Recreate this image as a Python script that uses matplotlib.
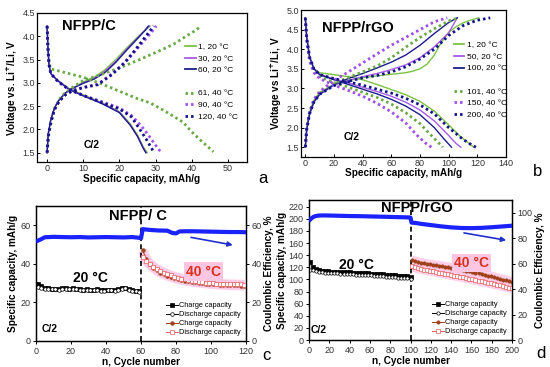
import numpy as np
import matplotlib
matplotlib.use('Agg')
import matplotlib.pyplot as plt
from matplotlib.lines import Line2D

plt.rcParams['font.family'] = ['Liberation Sans', 'DejaVu Sans']

# ---------------- Panel a data (NFPP/C) ----------------
a1_ch_x = [0, 0.3, 1, 2, 3, 5, 7, 10, 13, 16, 19, 22, 25, 27, 28.5]
a1_ch_v = [1.5, 1.9, 2.2, 2.45, 2.6, 2.78, 2.88, 3.02, 3.12, 3.28, 3.5, 3.75, 3.98, 4.12, 4.22]
a1_dis_x = [0, 0.2, 0.5, 1, 3, 6, 10, 15, 20, 23, 25, 26.5, 27.7]
a1_dis_v = [4.22, 3.8, 3.4, 3.2, 3.05, 2.88, 2.74, 2.58, 2.38, 2.12, 1.88, 1.64, 1.5]
a30_ch_x = [0, 0.3, 1, 2, 3, 5, 7, 10, 13, 16, 19, 22, 25, 27, 28.3]
a30_ch_v = [1.5, 1.9, 2.2, 2.45, 2.6, 2.78, 2.88, 3.0, 3.1, 3.25, 3.46, 3.72, 3.96, 4.12, 4.22]
a30_dis_x = [0, 0.2, 0.5, 1, 3, 6, 10, 15, 20, 23, 25, 26.5, 27.4]
a30_dis_v = [4.22, 3.8, 3.4, 3.2, 3.05, 2.87, 2.73, 2.57, 2.37, 2.1, 1.86, 1.62, 1.5]
a60_ch_x = [0, 0.3, 1, 2, 3, 5, 7, 10, 13, 16, 19, 22, 25, 27, 28.0]
a60_ch_v = [1.5, 1.9, 2.2, 2.45, 2.6, 2.78, 2.88, 2.99, 3.08, 3.22, 3.44, 3.7, 3.95, 4.12, 4.22]
a60_dis_x = [0, 0.2, 0.5, 1, 3, 6, 10, 15, 20, 23, 25, 26.5, 27.3]
a60_dis_v = [4.22, 3.8, 3.4, 3.2, 3.04, 2.86, 2.72, 2.56, 2.36, 2.09, 1.85, 1.61, 1.5]

a61_ch_x = [0, 0.5, 1, 2, 4, 7, 10, 15, 20, 25, 28.5, 32, 35, 38, 40.5, 42.7]
a61_ch_v = [1.5, 1.9, 2.1, 2.45, 2.72, 2.9, 3.05, 3.18, 3.32, 3.48, 3.6, 3.72, 3.83, 3.98, 4.1, 4.22]
a61_dis_x = [0, 0.3, 0.9, 5, 10, 15, 20, 25, 28.5, 32, 35, 37.7, 39.6, 42, 44, 46]
a61_dis_v = [4.22, 3.6, 3.3, 3.22, 3.12, 2.98, 2.82, 2.66, 2.57, 2.42, 2.28, 2.15, 1.98, 1.8, 1.66, 1.52]
a90_ch_x = [0, 0.3, 1, 2, 3.3, 5, 7, 10, 14, 18, 21.4, 24, 27, 29, 30.2]
a90_ch_v = [1.5, 1.85, 2.15, 2.42, 2.6, 2.74, 2.83, 2.9, 2.97, 3.2, 3.43, 3.65, 3.92, 4.1, 4.22]
a90_dis_x = [0, 0.2, 0.5, 1, 3, 6, 10, 15, 20, 23.3, 26, 28, 30, 31.4]
a90_dis_v = [4.22, 3.8, 3.4, 3.2, 3.03, 2.86, 2.73, 2.6, 2.46, 2.3, 2.08, 1.88, 1.66, 1.52]
a120_ch_x = [0, 0.3, 1, 2, 3.3, 5, 7, 10, 14, 18, 21.4, 24, 27, 28.5, 29.5]
a120_ch_v = [1.5, 1.85, 2.15, 2.42, 2.6, 2.74, 2.83, 2.9, 2.96, 3.18, 3.43, 3.67, 3.97, 4.12, 4.22]
a120_dis_x = [0, 0.2, 0.5, 1, 3, 6, 10, 15, 20, 23.3, 25.5, 27.5, 29.6]
a120_dis_v = [4.22, 3.8, 3.4, 3.2, 3.03, 2.86, 2.73, 2.58, 2.44, 2.27, 2.02, 1.78, 1.5]

# ---------------- Panel b data (NFPP/rGO) ----------------
b1_ch_x = [0, 1, 3, 6, 10, 20, 30, 40, 50, 60, 70, 75, 80, 85, 90, 95, 100, 105, 110, 115, 121]
b1_ch_v = [1.5, 2.0, 2.4, 2.7, 2.9, 3.1, 3.2, 3.27, 3.32, 3.36, 3.4, 3.44, 3.5, 3.62, 3.85, 4.18, 4.43, 4.57, 4.67, 4.74, 4.8]
b1_dis_x = [0, 1, 3, 6, 10, 20, 30, 40, 50, 60, 70, 80, 90, 100, 108, 114, 117.5]
b1_dis_v = [4.8, 4.3, 3.8, 3.5, 3.4, 3.35, 3.3, 3.22, 3.1, 2.97, 2.84, 2.67, 2.42, 2.07, 1.78, 1.6, 1.5]
b50_ch_x = [0, 1, 3, 6, 10, 20, 30, 40, 50, 60, 70, 80, 90, 100, 106]
b50_ch_v = [1.5, 1.95, 2.35, 2.65, 2.85, 3.08, 3.2, 3.3, 3.38, 3.48, 3.6, 3.78, 4.06, 4.42, 4.8]
b50_dis_x = [0, 1, 3, 6, 10, 20, 30, 40, 50, 60, 70, 80, 90, 100, 105, 108.5]
b50_dis_v = [4.8, 4.3, 3.8, 3.5, 3.36, 3.24, 3.14, 3.03, 2.92, 2.8, 2.65, 2.45, 2.17, 1.8, 1.6, 1.5]
b100_ch_x = [0, 1, 3, 6, 10, 20, 30, 40, 50, 60, 70, 80, 90, 100, 106]
b100_ch_v = [1.5, 1.95, 2.35, 2.65, 2.85, 3.1, 3.25, 3.38, 3.52, 3.67, 3.85, 4.1, 4.4, 4.68, 4.8]
b100_dis_x = [0, 1, 3, 6, 10, 20, 30, 40, 50, 60, 70, 80, 90, 97, 102]
b100_dis_v = [4.8, 4.3, 3.8, 3.5, 3.35, 3.22, 3.1, 2.98, 2.86, 2.72, 2.55, 2.33, 2.0, 1.7, 1.5]

b101_ch_x = [0, 1, 3, 6, 10, 20, 30, 40, 50, 60, 70, 80, 90, 100, 107]
b101_ch_v = [1.5, 2.0, 2.4, 2.7, 2.88, 3.12, 3.28, 3.42, 3.57, 3.78, 4.05, 4.3, 4.52, 4.72, 4.8]
b101_dis_x = [0, 1, 3, 6, 10, 20, 30, 40, 50, 60, 70, 80, 90, 96]
b101_dis_v = [4.8, 4.25, 3.75, 3.45, 3.3, 3.15, 3.03, 2.9, 2.77, 2.6, 2.38, 2.1, 1.72, 1.5]
b150_ch_x = [0, 1, 3, 6, 10, 20, 30, 40, 50, 60, 70, 80, 90, 99]
b150_ch_v = [1.5, 2.0, 2.4, 2.72, 2.92, 3.2, 3.42, 3.65, 3.88, 4.1, 4.3, 4.5, 4.7, 4.8]
b150_dis_x = [0, 1, 3, 6, 10, 20, 30, 40, 50, 60, 70, 78, 84, 88]
b150_dis_v = [4.8, 4.2, 3.7, 3.4, 3.25, 3.08, 2.95, 2.8, 2.62, 2.4, 2.12, 1.8, 1.6, 1.5]
b200_ch_x = [0, 1, 3, 6, 10, 20, 30, 40, 50, 60, 70, 80, 90, 100, 110, 120, 129]
b200_ch_v = [1.5, 1.95, 2.35, 2.65, 2.85, 3.07, 3.18, 3.27, 3.33, 3.42, 3.55, 3.75, 4.0, 4.35, 4.6, 4.74, 4.8]
b200_dis_x = [0, 1, 3, 6, 10, 20, 30, 40, 50, 60, 70, 80, 90, 100, 110, 116, 119]
b200_dis_v = [4.8, 4.3, 3.8, 3.5, 3.35, 3.25, 3.17, 3.08, 2.98, 2.88, 2.75, 2.58, 2.35, 2.0, 1.7, 1.56, 1.5]

# ---------------- Panel c data (NFPP/C cycling) ----------------
c_cyc20 = np.arange(1, 61, 2)
c_ch20 = [29.6, 28.4, 27.6, 27.3, 27.1, 27.2, 27.0, 27.3, 27.4, 27.2, 27.5, 27.1, 26.9, 26.6, 26.9,
          26.5, 26.7, 26.8, 26.4, 26.3, 26.5, 26.6, 26.4, 26.9, 27.4, 27.7, 27.0, 26.4, 26.1, 25.9]
c_dis20 = [28.2, 27.6, 27.0, 26.9, 26.8, 26.9, 26.7, 27.0, 27.1, 26.9, 27.1, 26.8, 26.5, 26.2, 26.5,
           26.2, 26.3, 26.5, 26.1, 26.0, 26.2, 26.3, 26.1, 26.5, 27.0, 27.3, 26.6, 26.1, 25.8, 25.6]
c_cyc40 = np.arange(61, 121, 2)
c_ch40 = [47.0, 42.5, 39.8, 38.0, 36.6, 35.5, 34.6, 33.8, 33.2, 32.6, 32.1, 31.7, 31.3, 31.0, 30.7,
          30.4, 30.2, 30.0, 29.8, 29.6, 29.5, 29.3, 29.2, 29.1, 29.0, 28.9, 28.8, 28.8, 28.7, 28.7]
c_dis40 = [43.5, 41.5, 39.9, 38.6, 37.4, 36.4, 35.5, 34.7, 34.0, 33.4, 32.9, 32.4, 32.0, 31.6, 31.3,
           31.0, 30.7, 30.5, 30.3, 30.1, 30.0, 29.8, 29.7, 29.6, 29.5, 29.4, 29.4, 29.3, 29.3, 29.2]
c_ce_cyc = [1, 3, 5, 10, 15, 20, 25, 30, 35, 40, 45, 50, 55, 59, 60, 61, 65, 70, 75, 78, 80, 82,
            85, 90, 95, 100, 105, 110, 115, 120]
c_ce = [52.0, 52.8, 53.8, 54.0, 53.9, 53.8, 53.9, 53.7, 53.8, 53.9, 53.8, 53.7, 53.9, 53.5, 53.2,
        58.0, 57.6, 57.3, 57.2, 56.0, 55.8, 56.8, 56.9, 56.9, 56.8, 56.7, 56.6, 56.5, 56.5, 56.4]

# ---------------- Panel d data (NFPP/rGO cycling) ----------------
d_cyc20 = np.arange(1, 101, 3)
d_ch20 = [128, 120, 117, 115.5, 114.5, 114, 113.5, 113, 112.8, 112.5, 112.3, 112, 111.8, 111.5,
          111.2, 111, 110.8, 110.5, 110.2, 110, 109.7, 109.4, 109, 108.7, 108.3, 108, 107.6, 107.2,
          106.8, 106.4, 106, 105.5, 105, 104.5]
d_dis20 = [116, 115, 113.5, 112.5, 111.8, 111.3, 110.8, 110.4, 110.1, 109.8, 109.5, 109.2, 108.9,
           108.6, 108.3, 108, 107.7, 107.4, 107.1, 106.8, 106.5, 106.2, 105.8, 105.4, 105, 104.6,
           104.2, 103.8, 103.4, 103, 102.6, 102.2, 101.8, 101.3]
d_cyc40 = np.arange(101, 201, 3)
d_ch40 = [132, 130, 128.5, 127.5, 126.5, 125.6, 124.8, 124, 123.2, 122.4, 121.6, 120.8, 120, 119.2,
          118.3, 117.4, 116.5, 115.5, 114.5, 113.4, 112.3, 111.2, 110, 108.8, 107.6, 106.4, 105.1,
          103.8, 102.5, 101.2, 99.8, 98.4, 97, 95.5]
d_dis40 = [122, 120, 118.5, 117.3, 116.2, 115.2, 114.2, 113.2, 112.2, 111.2, 110.2, 109.2, 108.2,
           107.2, 106.2, 105.2, 104.2, 103.2, 102.2, 101.1, 100, 98.9, 97.8, 96.7, 95.6, 94.5, 93.4,
           92.3, 91.2, 90, 88.8, 87.6, 86.4, 85.2]
d_ce_cyc = [1, 3, 5, 8, 10, 15, 20, 30, 40, 50, 60, 70, 80, 90, 99, 100, 101, 105, 110, 120, 130,
            140, 150, 160, 170, 180, 190, 200]
d_ce = [94.5, 96.0, 97.0, 97.6, 97.8, 97.9, 97.8, 97.6, 97.4, 97.3, 97.1, 96.9, 96.7, 96.5, 96.3,
        96.2, 92.2, 92.0, 91.3, 90.3, 89.3, 88.5, 88.0, 87.9, 88.1, 88.6, 89.2, 89.8]

# ---------------- styling ----------------
GREEN = '#7cc242'
PURPLE = '#a65ce6'
NAVY = '#1c1c8c'
DGREEN = '#6aaa45'
DPURPLE = '#a04ff0'
DNAVY = '#12128a'
BLUE = '#1a22ff'
BROWN = '#a0401a'
RED = '#e85a5a'
PINK = '#ffc6e4'
DOT = (0, (0.9, 1.1))

TICKFS = 6.5
LABFS = 7.2

fig = plt.figure(figsize=(5.5, 3.67), dpi=100)
W, H = 550.0, 367.0


def add_ax(l, t, r, b):
    return fig.add_axes([l / W, 1 - b / H, (r - l) / W, (b - t) / H])


def style(ax, direction='in'):
    ax.tick_params(labelsize=TICKFS, labelcolor='#333333', direction=direction,
                   length=2.5, width=0.7, pad=1.5)
    for s in ax.spines.values():
        s.set_linewidth(0.9)


# ---- panel a ----
axa = add_ax(37, 13, 247, 162)
solid = [(a1_ch_x, a1_ch_v, a1_dis_x, a1_dis_v, GREEN, '1, 20 °C'),
         (a30_ch_x, a30_ch_v, a30_dis_x, a30_dis_v, PURPLE, '30, 20 °C'),
         (a60_ch_x, a60_ch_v, a60_dis_x, a60_dis_v, NAVY, '60, 20 °C')]
dotted = [(a61_ch_x, a61_ch_v, a61_dis_x, a61_dis_v, DGREEN, '61, 40 °C'),
          (a90_ch_x, a90_ch_v, a90_dis_x, a90_dis_v, DPURPLE, '90, 40 °C'),
          (a120_ch_x, a120_ch_v, a120_dis_x, a120_dis_v, DNAVY, '120, 40 °C')]
hs = []
for cx, cv, dx, dv, col, lab in solid:
    axa.plot(cx, cv, color=col, lw=1.0)
    axa.plot(dx, dv, color=col, lw=1.0)
    hs.append(Line2D([], [], color=col, lw=1.3, label=lab))
hs.append(Line2D([], [], color='none', label=' '))
for cx, cv, dx, dv, col, lab in dotted:
    axa.plot(cx, cv, color=col, lw=2.0, ls=DOT)
    axa.plot(dx, dv, color=col, lw=2.0, ls=DOT)
    hs.append(Line2D([], [], color=col, lw=2.0, ls=DOT, label=lab))
axa.set_xlim(-2.8, 55.3)
axa.set_ylim(1.3, 4.5)
axa.set_xticks(np.arange(0, 51, 10))
axa.set_yticks(np.arange(1.5, 4.51, 0.5))
axa.yaxis.set_major_formatter(matplotlib.ticker.FormatStrFormatter('%.1f'))
style(axa)
axa.set_xlabel('Specific capacity, mAh/g', fontsize=LABFS, fontweight='bold', labelpad=1)
axa.set_ylabel('Voltage vs. Li$^{\\mathbf{+}}$/Li, V', fontsize=LABFS, fontweight='bold', labelpad=2)
axa.text(11.5, 4.22, 'NFPP/C', fontsize=10.5, fontweight='bold', ha='center', va='center')
axa.text(12.4, 1.67, 'C/2', fontsize=7.5, fontweight='bold', ha='center', va='center')
axa.legend(handles=hs, loc='upper left', bbox_to_anchor=(0.68, 0.83), frameon=False,
           fontsize=6, handlelength=1.3, handletextpad=0.3, labelspacing=0.45,
           borderpad=0.1)
fig.text(263 / W, 1 - 178 / H, 'a', fontsize=12, ha='center', va='center')

# ---- panel b ----
axb = add_ax(301, 10, 506, 157)
solid = [(b1_ch_x, b1_ch_v, b1_dis_x, b1_dis_v, GREEN, '1, 20 °C'),
         (b50_ch_x, b50_ch_v, b50_dis_x, b50_dis_v, PURPLE, '50, 20 °C'),
         (b100_ch_x, b100_ch_v, b100_dis_x, b100_dis_v, NAVY, '100, 20 °C')]
dotted = [(b101_ch_x, b101_ch_v, b101_dis_x, b101_dis_v, DGREEN, '101, 40 °C'),
          (b150_ch_x, b150_ch_v, b150_dis_x, b150_dis_v, DPURPLE, '150, 40 °C'),
          (b200_ch_x, b200_ch_v, b200_dis_x, b200_dis_v, DNAVY, '200, 40 °C')]
hs = []
for cx, cv, dx, dv, col, lab in solid:
    axb.plot(cx, cv, color=col, lw=1.0)
    axb.plot(dx, dv, color=col, lw=1.0)
    hs.append(Line2D([], [], color=col, lw=1.3, label=lab))
hs.append(Line2D([], [], color='none', label=' '))
for cx, cv, dx, dv, col, lab in dotted:
    axb.plot(cx, cv, color=col, lw=2.0, ls=DOT)
    axb.plot(dx, dv, color=col, lw=2.0, ls=DOT)
    hs.append(Line2D([], [], color=col, lw=2.0, ls=DOT, label=lab))
axb.set_xlim(-3, 140)
axb.set_ylim(1.25, 5.0)
axb.set_xticks(np.arange(0, 141, 20))
axb.set_yticks(np.arange(1.5, 5.01, 0.5))
axb.yaxis.set_major_formatter(matplotlib.ticker.FormatStrFormatter('%.1f'))
style(axb)
axb.set_xlabel('Specific capacity, mAh/g', fontsize=LABFS, fontweight='bold', labelpad=0)
axb.set_ylabel('Voltage vs Li$^{\\mathbf{+}}$/Li, V', fontsize=LABFS, fontweight='bold', labelpad=2)
axb.text(37, 4.53, 'NFPP/rGO', fontsize=10.5, fontweight='bold', ha='center', va='center')
axb.text(32, 1.76, 'C/2', fontsize=7.5, fontweight='bold', ha='center', va='center')
axb.legend(handles=hs, loc='upper left', bbox_to_anchor=(0.72, 0.82), frameon=False,
           fontsize=6, handlelength=1.3, handletextpad=0.3, labelspacing=0.45,
           borderpad=0.1)
fig.text(538 / W, 1 - 172 / H, 'b', fontsize=12, ha='center', va='center')


def cycling(ax, cyc20, ch20, dis20, cyc40, ch40, dis40, ms):
    ax.plot(cyc40, ch40, color=PINK, lw=7, alpha=0.8, solid_capstyle='butt', zorder=1)
    ax.plot(cyc40, dis40, color=PINK, lw=7, alpha=0.8, solid_capstyle='butt', zorder=1)
    h1, = ax.plot(cyc20, ch20, color='black', lw=0.7, marker='s', ms=ms, mfc='black',
                  mec='black', mew=0.5, label='Charge capacity', zorder=3)
    h2, = ax.plot(cyc20, dis20, color='black', lw=0.7, marker='o', ms=ms, mfc='white',
                  mec='black', mew=0.5, label='Discharge capacity', zorder=3)
    h3, = ax.plot(cyc40, ch40, color=BROWN, lw=0.7, marker='o', ms=ms, mfc=BROWN,
                  mec=BROWN, mew=0.5, label='Charge capacity', zorder=3)
    h4, = ax.plot(cyc40, dis40, color=RED, lw=0.7, marker='s', ms=ms, mfc='white',
                  mec=RED, mew=0.5, label='Discharge capacity', zorder=3)
    return [h1, h2, h3, h4]


# ---- panel c ----
axc = add_ax(36, 206, 246, 341)
hc = cycling(axc, c_cyc20, c_ch20, c_dis20, c_cyc40, c_ch40, c_dis40, 2.6)
axc.axvline(60, color='black', lw=1.2, ls=(0, (3, 2)), zorder=2)
axc.set_xlim(0, 120)
axc.set_ylim(0, 70)
axc.set_xticks(np.arange(0, 121, 20))
axc.set_yticks([0, 20, 40, 60])
style(axc, 'out')
axc2 = axc.twinx()
axc2.plot(c_ce_cyc, c_ce, color=BLUE, lw=3.0, zorder=4)
axc2.set_ylim(0, 70)
axc2.set_yticks([0, 20, 40, 60])
style(axc2, 'out')
axc2.annotate('', xy=(114, 49.5), xytext=(87, 54),
              arrowprops=dict(arrowstyle='-|>', color='#2030d0', lw=1.2,
                              mutation_scale=7))
axc.set_xlabel('n, Cycle number', fontsize=LABFS, fontweight='bold', labelpad=1)
axc.set_ylabel('Specific capacity, mAh/g', fontsize=LABFS, fontweight='bold', labelpad=2)
axc2.set_ylabel('Coulombic Efficiency, %', fontsize=LABFS, fontweight='bold', labelpad=2)
axc.text(58.5, 65, 'NFPP/ C', fontsize=10.5, fontweight='bold', ha='center', va='center')
axc.text(31, 32.5, '20 °C', fontsize=10, fontweight='bold', ha='center', va='center')
axc.text(95.5, 36, '40 °C', fontsize=10, fontweight='bold', color='#d8301a', ha='center',
         va='center', bbox=dict(boxstyle='square,pad=0.15', fc=PINK, ec='none'))
axc.text(8, 6, 'C/2', fontsize=7.5, fontweight='bold', ha='center', va='center')
axc2.legend(handles=hc, loc='lower right', bbox_to_anchor=(1.0, 0.0), frameon=False,
            fontsize=5.3, handlelength=1.6, handletextpad=0.2, labelspacing=0.25,
            borderpad=0.15)
fig.text(266 / W, 1 - 355 / H, 'c', fontsize=12, ha='center', va='center')

# ---- panel d ----
axd = add_ax(309, 200, 512, 340)
hd = cycling(axd, d_cyc20, d_ch20, d_dis20, d_cyc40, d_ch40, d_dis40, 2.4)
axd.axvline(100, color='black', lw=1.2, ls=(0, (3, 2)), zorder=2)
axd.set_xlim(0, 200)
axd.set_ylim(0, 231)
axd.set_xticks(np.arange(0, 201, 20))
axd.set_yticks(np.arange(0, 221, 20))
style(axd, 'out')
axd2 = axd.twinx()
axd2.plot(d_ce_cyc, d_ce, color=BLUE, lw=3.0, zorder=4)
axd2.set_ylim(0, 110)
axd2.set_yticks(np.arange(0, 101, 20))
style(axd2, 'out')
axd2.annotate('', xy=(197, 78), xytext=(150, 84.5),
              arrowprops=dict(arrowstyle='-|>', color='#2030d0', lw=1.2,
                              mutation_scale=7))
axd.set_xlabel('n, Cycle number', fontsize=LABFS, fontweight='bold', labelpad=1)
axd.set_ylabel('Specific capacity, mAh/g', fontsize=LABFS, fontweight='bold', labelpad=1)
axd2.set_ylabel('Coulombic Efficiency, %', fontsize=LABFS, fontweight='bold', labelpad=2)
axd.text(106, 217, 'NFPP/rGO', fontsize=10.5, fontweight='bold', ha='center', va='center')
axd.text(47, 124, '20 °C', fontsize=10, fontweight='bold', ha='center', va='center')
axd.text(160, 127, '40 °C', fontsize=10, fontweight='bold', color='#d8301a', ha='center',
         va='center', bbox=dict(boxstyle='square,pad=0.15', fc=PINK, ec='none'))
axd.text(9, 16, 'C/2', fontsize=7.5, fontweight='bold', ha='center', va='center')
axd2.legend(handles=hd, loc='lower right', bbox_to_anchor=(1.0, 0.0), frameon=False,
            fontsize=5.3, handlelength=1.6, handletextpad=0.2, labelspacing=0.25,
            borderpad=0.15)
fig.text(541 / W, 1 - 354 / H, 'd', fontsize=12, ha='center', va='center')

fig.savefig('out.png', dpi=100)
